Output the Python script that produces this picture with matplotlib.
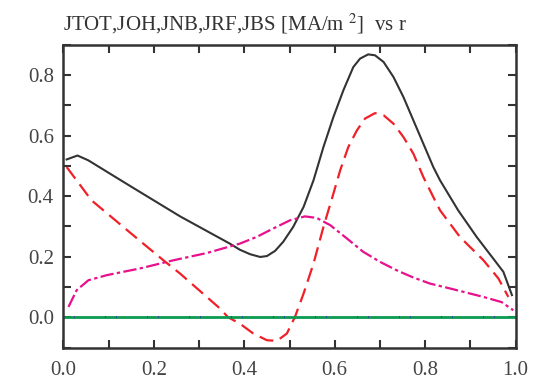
import numpy as np
import matplotlib
matplotlib.use('Agg')
import matplotlib.pyplot as plt
from matplotlib.ticker import MultipleLocator

plt.rcParams['font.family'] = ['Liberation Serif', 'DejaVu Serif']
plt.rcParams['mathtext.fontset'] = 'stix'

# JTOT (total current)
r_tot = [0.007, 0.031, 0.055, 0.15, 0.258, 0.28, 0.368, 0.390, 0.413, 0.435, 0.450,
         0.468, 0.486, 0.508, 0.531, 0.553, 0.575, 0.597, 0.619, 0.641, 0.656, 0.674,
         0.689, 0.708, 0.730, 0.752, 0.774, 0.796, 0.818, 0.833, 0.873, 0.914, 0.973,
         0.992]
j_tot = [0.521, 0.534, 0.518, 0.431, 0.333, 0.315, 0.243, 0.223, 0.208, 0.199, 0.202,
         0.219, 0.249, 0.298, 0.364, 0.452, 0.562, 0.661, 0.749, 0.826, 0.854, 0.868,
         0.865, 0.843, 0.793, 0.727, 0.65, 0.573, 0.496, 0.452, 0.353, 0.265, 0.15,
         0.073]

# JOH (ohmic)
r_oh = [0.007, 0.062, 0.162, 0.221, 0.258, 0.346, 0.364, 0.390, 0.420, 0.450, 0.472,
        0.494, 0.512, 0.531, 0.553, 0.575, 0.597, 0.612, 0.630, 0.649, 0.667, 0.689,
        0.708, 0.730, 0.752, 0.774, 0.796, 0.818, 0.833, 0.877, 0.929, 0.962, 0.984]
j_oh = [0.496, 0.386, 0.261, 0.188, 0.144, 0.029, 0.0, -0.021, -0.054, -0.076, -0.078,
        -0.054, 0.001, 0.078, 0.177, 0.298, 0.408, 0.485, 0.562, 0.617, 0.656, 0.674,
        0.667, 0.639, 0.595, 0.540, 0.463, 0.397, 0.353, 0.265, 0.188, 0.128, 0.067]

# JNB, JRF (zero)
r_zero = [0.0, 1.0]
j_nb = [0.0, 0.0]
j_rf = [0.0, 0.0]

# JBS (bootstrap)
r_bs = [0.011, 0.029, 0.055, 0.096, 0.169, 0.243, 0.317, 0.390, 0.427, 0.464, 0.501,
        0.534, 0.560, 0.590, 0.627, 0.663, 0.700, 0.737, 0.774, 0.811, 0.855, 0.929,
        0.969, 0.995]
j_bs = [0.034, 0.089, 0.122, 0.139, 0.161, 0.188, 0.212, 0.243, 0.265, 0.293, 0.320,
        0.333, 0.328, 0.304, 0.260, 0.216, 0.183, 0.155, 0.131, 0.111, 0.095, 0.067,
        0.05, 0.023]

fig = plt.figure(figsize=(5.45, 3.82), dpi=100)
ax = fig.add_axes([0.1165, 0.0903, 0.8295, 0.7927])

ax.plot(r_tot, j_tot, color='#333333', lw=1.5)
ax.plot(r_oh, j_oh, color='#f02028', lw=1.6, dashes=(6.5, 3.2))
ax.plot(r_zero, j_rf, color='#0a9a50', lw=2.0)
ax.plot(r_zero, j_nb, color='#3838a8', lw=1.2, dashes=(0.6, 6, 0.6, 18))
ax.plot(r_bs, j_bs, color='#e8108c', lw=1.6, dashes=(6, 1.5, 1.5, 1.5))

ax.set_xlim(0, 1.0)
ax.set_ylim(-0.1, 0.9)
ax.xaxis.set_minor_locator(MultipleLocator(0.1))
ax.yaxis.set_minor_locator(MultipleLocator(0.1))
ax.set_xticks([0, 0.2, 0.4, 0.6, 0.8, 1.0])
ax.set_xticklabels(['0.0', '0.2', '0.4', '0.6', '0.8', '1.0'])
ax.set_yticks([0, 0.2, 0.4, 0.6, 0.8])
ax.set_yticklabels(['0.0', '0.2', '0.4', '0.6', '0.8'])

ax.tick_params(which='both', direction='in', top=True, right=True, length=6,
               width=1.5, color='#333333', labelsize=15, labelcolor='#444444')
ax.tick_params(axis='x', pad=10)
ax.tick_params(axis='y', pad=7)
for s in ax.spines.values():
    s.set_linewidth(1.8)
    s.set_color('#333333')

fig.text(0.1165, 0.92, r'JTOT,JOH,JNB,JRF,JBS [MA/m $^{2}$]  vs r',
         fontsize=15, color='#333333', ha='left', va='baseline')

fig.savefig('out.png', dpi=100)
